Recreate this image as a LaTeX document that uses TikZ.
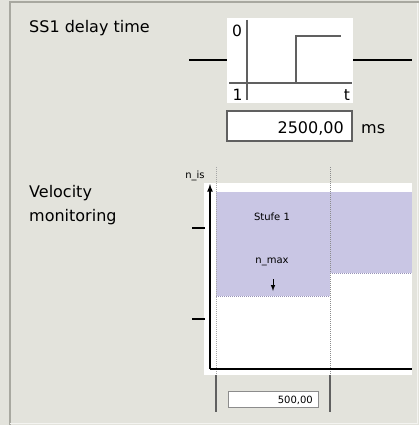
\documentclass[tikz,border=0pt]{standalone}
\usepackage{fontspec}
\setmainfont{DejaVu Sans}
\newfontfamily\chartfont{DejaVu Sans}
\usetikzlibrary{positioning}
\definecolor{panelbg}{HTML}{E3E3DC}
\definecolor{panelframe}{HTML}{A8A8A0}
\definecolor{axisgray}{HTML}{606060}
\definecolor{stufefill}{HTML}{C9C6E4}
\definecolor{stufeedge}{HTML}{9893B8}

\begin{document}
\begin{tikzpicture}[x=1pt, y=-1pt,
    label/.style={inner sep=0pt, font=\fontsize{16}{18}\selectfont},
    digit/.style={inner sep=0pt, font=\fontsize{15.5}{18}\selectfont, anchor=base},
    small/.style={inner sep=0pt, font=\chartfont\fontsize{10}{12}\selectfont},
    valuebox/.style={draw=axisgray, fill=white, line width=1.6pt},
    guide/.style={densely dotted, stufeedge, line width=1pt}]
  \fill[panelbg] (0,0) rectangle (419,425);
  \useasboundingbox (0,0) rectangle (419,425);
  \draw[panelframe, line width=2pt] (10,425) -- (10,2.5) -- (419,2.5);
  \draw[white!60!panelbg, line width=1pt] (10,423.5) -- (417.5,423.5) -- (417.5,3.5);

  % SS1 delay time
  \node[label, anchor=base west] (ss1) at (29,33) {SS1 delay time};
  \fill[white] (227,18) rectangle (353,103);
  \coordinate (linein) at (189,60);
  \coordinate (lineout) at (412,60);
  \draw[line width=2pt] (linein) -- (227,60);
  \draw[line width=2pt] (353,60) -- (lineout);
  \begin{scope}[axisgray, line width=2pt]
    \draw (247,20) -- (247,100);
    \draw (229,83) -- (352,83);
    \draw (296,83) -- (296,36) -- (341,36);
  \end{scope}
  \node[digit] (zero) at (237,37) {0};
  \node[digit] (one) at (237.5,100) {1};
  \node[digit] (tee) at (347,100) {t};
  \draw[valuebox] (227,111) rectangle (352,141);
  \node[label, anchor=base east] (delay) at (344,133) {2500,00};
  \node[label, anchor=base west] (unit) at (361,133) {ms};

  % Velocity monitoring
  \node[label, anchor=base west, align=left] (velo) at (29,221) {Velocity\\[6pt]monitoring};
  \fill[white] (204,183) rectangle (412,375);
  \fill[stufefill] (216,192) rectangle (330,296);
  \fill[stufefill] (330,192) rectangle (412,273);
  \draw[guide] (216,296) -- (330,296);
  \draw[guide] (330,273) -- (412,273);
  \draw[guide, black!35] (216,167) -- (216,375);
  \draw[guide, black!45] (330,167) -- (330,375);
  \draw[axisgray, line width=1.6pt] (216,375) -- (216,412);
  \draw[axisgray, line width=1.6pt] (330,375) -- (330,412);
  \coordinate (origin) at (210,369);
  \coordinate (ytop) at (210,184);
  \coordinate (xend) at (412,369);
  \draw[line width=1.6pt, -latex] (origin) -- (ytop);
  \draw[line width=1.6pt] (origin) -- (xend);
  \draw[line width=1.6pt] (192,228) -- (205,228);
  \draw[line width=1.6pt] (192,319) -- (205,319);
  \node[small, anchor=base] (nis) at (195,178) {n\_is};
  \node[small, anchor=base] (stufe) at (272,220) {Stufe 1};
  \node[small, anchor=base] (nmax) at (272,263) {n\_max};
  \coordinate (dropfrom) at (273,279);
  \coordinate (dropto) at (273,291);
  \draw[line width=1pt, -latex] (dropfrom) -- (dropto);
  \draw[draw=black!45, fill=white, line width=1pt] (228,391) rectangle (318,407);
  \node[small, anchor=base east] (window) at (313,403) {500,00};
\end{tikzpicture}
\end{document}
